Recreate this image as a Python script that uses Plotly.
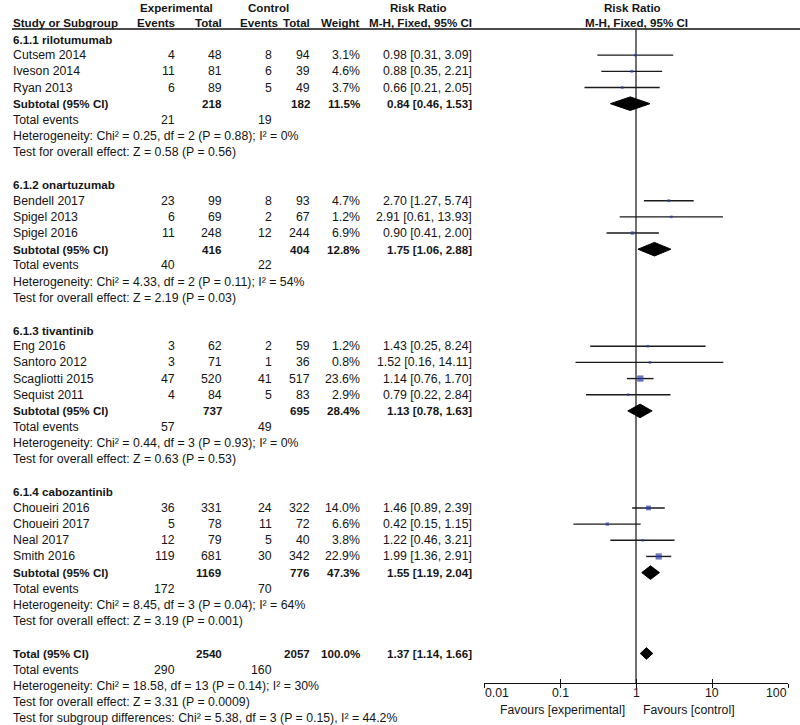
import math
import plotly.graph_objects as go

# ---------------- data ----------------
group_names = ["6.1.1 rilotumumab", "6.1.2 onartuzumab", "6.1.3 tivantinib", "6.1.4 cabozantinib"]

study_group = [0, 0, 0, 1, 1, 1, 2, 2, 2, 2, 3, 3, 3, 3]
study_names = ["Cutsem 2014", "Iveson 2014", "Ryan 2013",
               "Bendell 2017", "Spigel 2013", "Spigel 2016",
               "Eng 2016", "Santoro 2012", "Scagliotti 2015", "Sequist 2011",
               "Choueiri 2016", "Choueiri 2017", "Neal 2017", "Smith 2016"]
exp_events = [4, 11, 6, 23, 6, 11, 3, 3, 47, 4, 36, 5, 12, 119]
exp_total = [48, 81, 89, 99, 69, 248, 62, 71, 520, 84, 331, 78, 79, 681]
ctrl_events = [8, 6, 5, 8, 2, 12, 2, 1, 41, 5, 24, 11, 5, 30]
ctrl_total = [94, 39, 49, 93, 67, 244, 59, 36, 517, 83, 322, 72, 40, 342]
weights = [3.1, 4.6, 3.7, 4.7, 1.2, 6.9, 1.2, 0.8, 23.6, 2.9, 14.0, 6.6, 3.8, 22.9]
rr = [0.98, 0.88, 0.66, 2.70, 2.91, 0.90, 1.43, 1.52, 1.14, 0.79, 1.46, 0.42, 1.22, 1.99]
rr_lo = [0.31, 0.35, 0.21, 1.27, 0.61, 0.41, 0.25, 0.16, 0.76, 0.22, 0.89, 0.15, 0.46, 1.36]
rr_hi = [3.09, 2.21, 2.05, 5.74, 13.93, 2.00, 8.24, 14.11, 1.70, 2.84, 2.39, 1.15, 3.21, 2.91]

sub_exp_total = [218, 416, 737, 1169]
sub_ctrl_total = [182, 404, 695, 776]
sub_weight = [11.5, 12.8, 28.4, 47.3]
sub_rr = [0.84, 1.75, 1.13, 1.55]
sub_lo = [0.46, 1.06, 0.78, 1.19]
sub_hi = [1.53, 2.88, 1.63, 2.04]
sub_exp_events = [21, 40, 57, 172]
sub_ctrl_events = [19, 22, 49, 70]
sub_het = ["Heterogeneity: Chi² = 0.25, df = 2 (P = 0.88); I² = 0%",
           "Heterogeneity: Chi² = 4.33, df = 2 (P = 0.11); I² = 54%",
           "Heterogeneity: Chi² = 0.44, df = 3 (P = 0.93); I² = 0%",
           "Heterogeneity: Chi² = 8.45, df = 3 (P = 0.04); I² = 64%"]
sub_test = ["Test for overall effect: Z = 0.58 (P = 0.56)",
            "Test for overall effect: Z = 2.19 (P = 0.03)",
            "Test for overall effect: Z = 0.63 (P = 0.53)",
            "Test for overall effect: Z = 3.19 (P = 0.001)"]

total_exp_total = 2540
total_ctrl_total = 2057
total_weight = 100.0
total_rr, total_lo, total_hi = 1.37, 1.14, 1.66
total_exp_events = 290
total_ctrl_events = 160
total_notes = ["Heterogeneity: Chi² = 18.58, df = 13 (P = 0.14); I² = 30%",
               "Test for overall effect: Z = 3.31 (P = 0.0009)",
               "Test for subgroup differences: Chi² = 5.38, df = 3 (P = 0.15), I² = 44.2%"]

tick_vals = [0.01, 0.1, 1, 10, 100]
tick_text = ["0.01", "0.1", "1", "10", "100"]

# ---------------- layout helpers ----------------
W, H = 800, 725
ROW = 16.17          # px per row
ROW0 = 39            # px of first row centre
Y_TOP = ROW0 / ROW
Y_BOT = -(H - ROW0) / ROW
AXIS_PX = 683

FONT = "Liberation Sans, Arial, sans-serif"
FS = 12.3
FSB = 11.6
TXT = "#151515"

X_LABEL = 12
X_EE, X_ET, X_CE, X_CT, X_W, X_RR = 176, 223, 273, 311, 361, 473

ann = []


def t(x, row, text, anchor="left", bold=False, yv=None):
    y = -row if yv is None else yv
    ann.append(dict(x=x, y=y, xref="x", yref="y", text=("<b>%s</b>" % text) if bold else text,
                    showarrow=False, xanchor=anchor, yanchor="middle", borderpad=0,
                    font=dict(family=FONT, size=FSB if bold else FS, color=TXT)))


def fmt_ci(a, b, c):
    return "%.2f [%.2f, %.2f]" % (a, b, c)


study_rows, sub_rows = [], []
row = 0
for g, gname in enumerate(group_names):
    t(X_LABEL, row, gname, bold=True)
    row += 1
    for i in range(len(study_names)):
        if study_group[i] != g:
            continue
        t(X_LABEL, row, study_names[i])
        t(X_EE, row, str(exp_events[i]), "right")
        t(X_ET, row, str(exp_total[i]), "right")
        t(X_CE, row, str(ctrl_events[i]), "right")
        t(X_CT, row, str(ctrl_total[i]), "right")
        t(X_W, row, "%.1f%%" % weights[i], "right")
        t(X_RR, row, fmt_ci(rr[i], rr_lo[i], rr_hi[i]), "right")
        study_rows.append(row)
        row += 1
    t(X_LABEL, row, "Subtotal (95% CI)", bold=True)
    t(X_ET, row, str(sub_exp_total[g]), "right", bold=True)
    t(X_CT, row, str(sub_ctrl_total[g]), "right", bold=True)
    t(X_W, row, "%.1f%%" % sub_weight[g], "right", bold=True)
    t(X_RR, row, fmt_ci(sub_rr[g], sub_lo[g], sub_hi[g]), "right", bold=True)
    sub_rows.append(row)
    row += 1
    t(X_LABEL, row, "Total events")
    t(X_EE, row, str(sub_exp_events[g]), "right")
    t(X_CE, row, str(sub_ctrl_events[g]), "right")
    row += 1
    t(X_LABEL, row, sub_het[g])
    row += 1
    t(X_LABEL, row, sub_test[g])
    row += 2

total_row = row
t(X_LABEL, row, "Total (95% CI)", bold=True)
t(X_ET, row, str(total_exp_total), "right", bold=True)
t(X_CT, row, str(total_ctrl_total), "right", bold=True)
t(X_W, row, "%.1f%%" % total_weight, "right", bold=True)
t(X_RR, row, fmt_ci(total_rr, total_lo, total_hi), "right", bold=True)
row += 1
t(X_LABEL, row, "Total events")
t(X_EE, row, str(total_exp_events), "right")
t(X_CE, row, str(total_ctrl_events), "right")
row += 1
for note in total_notes:
    t(X_LABEL, row, note)
    row += 1

# headers
y_h1 = Y_TOP - 7 / ROW
y_h2 = Y_TOP - 22 / ROW
y_line = Y_TOP - 29 / ROW
y_axis = Y_TOP - AXIS_PX / ROW
t(176, None, "Experimental", "center", True, y_h1)
t(268, None, "Control", "center", True, y_h1)
t(418, None, "Risk Ratio", "center", True, y_h1)
t(632, None, "Risk Ratio", "center", True, y_h1)
t(X_LABEL, None, "Study or Subgroup", "left", True, y_h2)
t(176, None, "Events", "right", True, y_h2)
t(X_ET, None, "Total", "right", True, y_h2)
t(279, None, "Events", "right", True, y_h2)
t(X_CT, None, "Total", "right", True, y_h2)
t(X_W, None, "Weight", "right", True, y_h2)
t(X_RR, None, "M-H, Fixed, 95% CI", "right", True, y_h2)
t(636, None, "M-H, Fixed, 95% CI", "center", True, y_h2)

# tick labels (ends aligned inward like the original)
y_tick = Y_TOP - 693 / ROW
for k, (tv, tt) in enumerate(zip(tick_vals, tick_text)):
    anchor = "left" if k == 0 else ("right" if k == len(tick_vals) - 1 else "center")
    ann.append(dict(x=math.log10(tv), y=y_tick, xref="x2", yref="y", text=tt, showarrow=False,
                    xanchor=anchor, yanchor="middle", borderpad=0,
                    font=dict(family=FONT, size=FS, color=TXT)))

# favours labels
y_fav = Y_TOP - 710 / ROW
ann.append(dict(x=0, y=y_fav, xref="x2", yref="y", text="Favours [experimental]", showarrow=False,
                xanchor="right", yanchor="middle", xshift=-10, borderpad=0,
                font=dict(family=FONT, size=FS, color=TXT)))
ann.append(dict(x=0, y=y_fav, xref="x2", yref="y", text="Favours [control]", showarrow=False,
                xanchor="left", yanchor="middle", xshift=6, borderpad=0,
                font=dict(family=FONT, size=FS, color=TXT)))

fig = go.Figure()

# header rule
fig.add_trace(go.Scatter(x=[X_LABEL, W], y=[y_line, y_line], mode="lines",
                         line=dict(color="#111", width=1.3), xaxis="x", yaxis="y",
                         hoverinfo="skip", showlegend=False))
# line of no effect
fig.add_trace(go.Scatter(x=[1, 1], y=[y_line, y_axis], mode="lines",
                         line=dict(color="#111", width=1.2), xaxis="x2", yaxis="y",
                         hoverinfo="skip", showlegend=False))

# CI lines
cx, cy = [], []
for i, r in enumerate(study_rows):
    cx += [rr_lo[i], rr_hi[i], None]
    cy += [-r, -r, None]
fig.add_trace(go.Scatter(x=cx, y=cy, mode="lines", line=dict(color="#1a1a1a", width=1.4),
                         xaxis="x2", yaxis="y", hoverinfo="skip", showlegend=False))
# squares
fig.add_trace(go.Scatter(x=rr, y=[-r for r in study_rows], mode="markers",
                         marker=dict(symbol="square", color="#2b3fa8",
                                     size=[max(2.6, 1.3 * w ** 0.5) for w in weights],
                                     line=dict(width=0)),
                         xaxis="x2", yaxis="y", hoverinfo="skip", showlegend=False))

# diamonds
HD = 0.42


def diamond(est, lo, hi, r, hd=HD):
    fig.add_trace(go.Scatter(x=[lo, est, hi, est, lo], y=[-r, -r + hd, -r, -r - hd, -r],
                             mode="lines", fill="toself", fillcolor="#000",
                             line=dict(color="#000", width=1), xaxis="x2", yaxis="y",
                             hoverinfo="skip", showlegend=False))


for g, r in enumerate(sub_rows):
    diamond(sub_rr[g], sub_lo[g], sub_hi[g], r)
diamond(total_rr, total_lo, total_hi, total_row, 0.36)

# dummy trace for inside-tick axis
fig.add_trace(go.Scatter(x=[1], y=[y_axis], mode="markers", marker=dict(opacity=0),
                         xaxis="x3", yaxis="y", hoverinfo="skip", showlegend=False))

x2_dom = [484 / W, 788 / W]
axis_pos = 1 - AXIS_PX / H

fig.update_layout(
    width=W, height=H, margin=dict(l=0, r=0, t=0, b=0),
    paper_bgcolor="white", plot_bgcolor="rgba(0,0,0,0)",
    showlegend=False, annotations=ann, hovermode=False,
    xaxis=dict(range=[0, W], domain=[0, 1], visible=False, fixedrange=True),
    yaxis=dict(range=[Y_BOT, Y_TOP], domain=[0, 1], visible=False, fixedrange=True),
    xaxis2=dict(type="log", range=[-2, 2], domain=x2_dom, anchor="free", position=axis_pos,
                showline=True, linecolor="#111", linewidth=1.3, showgrid=False, zeroline=False,
                tickvals=tick_vals, ticks="outside", ticklen=4,
                tickwidth=1.3, tickcolor="#111", showticklabels=False, fixedrange=True),
    xaxis3=dict(type="log", range=[-2, 2], domain=x2_dom, anchor="free", position=axis_pos,
                overlaying="x2", showline=False, showgrid=False, zeroline=False,
                tickvals=tick_vals, ticks="inside", ticklen=4, tickwidth=1.3, tickcolor="#111",
                showticklabels=False, fixedrange=True),
)

fig.write_html("out.html", config={"displayModeBar": False},
               post_script="document.body.style.margin='0';document.body.style.overflow='hidden';")
